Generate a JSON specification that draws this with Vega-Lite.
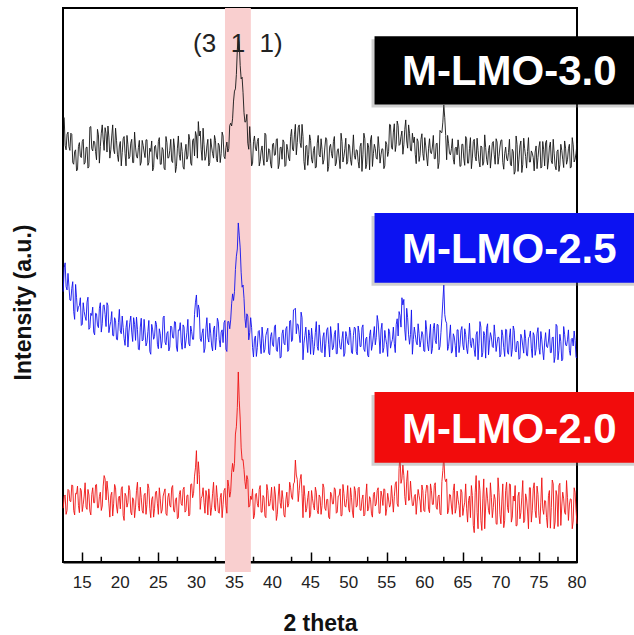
{
"$schema": "https://vega.github.io/schema/vega-lite/v6.json",
"width": 514, "height": 554,
"autosize": {"type": "none"},
"padding": {"left": 63, "top": 8, "right": 57, "bottom": 73},
"background": "white",
"config": {
"view": {"stroke": "#000", "strokeWidth": 2},
"font": "Liberation Sans",
"axisX": {"tickSize": -10, "tickColor": "#000", "tickWidth": 1.5, "domainColor": "#000", "domainWidth": 2,
"labelFontSize": 17, "labelColor": "white", "labelOpacity": 0, "labelPadding": 22, "labelFlush": false, "labelOverlap": false, "labelBound": false,
"titleFontSize": 23, "titleFontWeight": "bold", "titleColor": "#111", "titlePadding": 22, "grid": false},
"axisY": {"labels": false, "ticks": false, "domain": false, "grid": false,
"titleFontSize": 23, "titleFontWeight": "bold", "titleColor": "#111", "titlePadding": 28}
},
"datasets": {
"band": [{"lo": 33.75, "hi": 37.15}],
"minor": [{"m":12.5},{"m":17.5},{"m":22.5},{"m":27.5},{"m":32.5},{"m":37.5},{"m":42.5},{"m":47.5},{"m":52.5},{"m":57.5},{"m":62.5},{"m":67.5},{"m":72.5},{"m":77.5}],
"ticklab": [{"v":15},{"v":20},{"v":25},{"v":30},{"v":35},{"v":40},{"v":45},{"v":50},{"v":55},{"v":60},{"v":65},{"v":70},{"v":75},{"v":80}],
"hkl": [{"t": 35.45, "v": 93.5, "txt": "(3\u00a0\u00a01\u00a0\u00a01)"}],
"tags": [
{"name": "M-LMO-3.0", "x1": 53.4, "x2": 89, "y1": 94.9, "y2": 82.6, "tx": 71.1, "ty": 86.1},
{"name": "M-LMO-2.5", "x1": 53.4, "x2": 89, "y1": 63.0, "y2": 50.4, "tx": 71.1, "ty": 53.9},
{"name": "M-LMO-2.0", "x1": 53.4, "x2": 89, "y1": 30.7, "y2": 17.9, "tx": 71.1, "ty": 21.4}
],
"xrd": [
{"t":12.5,"k":80.1,"b":48.8,"r":9.7},{"t":12.75,"k":75.2,"b":54.0,"r":12.1},{"t":13,"k":77.2,"b":49.1,"r":9.3},{"t":13.25,"k":75.0,"b":49.8,"r":12.9},{"t":13.5,"k":77.4,"b":47.2,"r":10.9},{"t":13.75,"k":72.1,"b":50.6,"r":13.8},{"t":14,"k":74.1,"b":43.8,"r":8.5},{"t":14.25,"k":70.6,"b":47.7,"r":12.3},{"t":14.5,"k":75.0,"b":46.0,"r":10.2},{"t":14.75,"k":73.3,"b":47.7,"r":13.3},
{"t":15,"k":75.9,"b":42.9,"r":9.1},{"t":15.25,"k":71.8,"b":45.2,"r":11.9},{"t":15.5,"k":74.8,"b":43.6,"r":9.9},{"t":15.75,"k":71.1,"b":47.8,"r":13.1},{"t":16,"k":78.5,"b":42.3,"r":9.2},{"t":16.25,"k":74.6,"b":44.5,"r":12.2},{"t":16.5,"k":76.0,"b":41.5,"r":10.7},{"t":16.75,"k":74.1,"b":44.9,"r":13.9},{"t":17,"k":78.1,"b":42.8,"r":9.8},{"t":17.25,"k":72.0,"b":45.8,"r":11.8},
{"t":17.5,"k":77.4,"b":41.5,"r":9.3},{"t":17.75,"k":76.2,"b":46.3,"r":13.7},{"t":18,"k":78.4,"b":44.7,"r":15.0},{"t":18.25,"k":74.0,"b":46.8,"r":14.6},{"t":18.5,"k":76.7,"b":41.4,"r":10.5},{"t":18.75,"k":74.4,"b":43.4,"r":12.0},{"t":19,"k":78.9,"b":40.9,"r":8.3},{"t":19.25,"k":73.7,"b":44.1,"r":14.0},{"t":19.5,"k":76.1,"b":40.2,"r":10.1},{"t":19.75,"k":72.3,"b":43.2,"r":11.5},
{"t":20,"k":75.9,"b":41.7,"r":9.6},{"t":20.25,"k":73.9,"b":44.4,"r":13.6},{"t":20.5,"k":76.8,"b":40.3,"r":7.5},{"t":20.75,"k":71.5,"b":42.3,"r":11.9},{"t":21,"k":75.3,"b":38.8,"r":10.7},{"t":21.25,"k":73.2,"b":43.2,"r":12.9},{"t":21.5,"k":76.3,"b":41.5,"r":8.5},{"t":21.75,"k":72.1,"b":44.1,"r":11.2},{"t":22,"k":74.9,"b":40.0,"r":9.9},{"t":22.25,"k":72.9,"b":42.0,"r":14.4},
{"t":22.5,"k":76.1,"b":38.3,"r":9.2},{"t":22.75,"k":72.2,"b":44.0,"r":11.6},{"t":23,"k":75.2,"b":40.1,"r":8.8},{"t":23.25,"k":73.0,"b":41.5,"r":12.4},{"t":23.5,"k":76.2,"b":39.6,"r":10.4},{"t":23.75,"k":72.1,"b":43.6,"r":13.3},{"t":24,"k":74.1,"b":37.5,"r":8.0},{"t":24.25,"k":70.6,"b":41.9,"r":11.8},{"t":24.5,"k":75.0,"b":40.7,"r":9.7},{"t":24.75,"k":73.3,"b":42.9,"r":12.8},
{"t":25,"k":75.9,"b":38.5,"r":8.6},{"t":25.25,"k":71.8,"b":41.2,"r":11.4},{"t":25.5,"k":74.8,"b":39.9,"r":9.4},{"t":25.75,"k":71.1,"b":44.4,"r":12.6},{"t":26,"k":76.8,"b":39.2,"r":8.7},{"t":26.25,"k":72.9,"b":41.6,"r":11.7},{"t":26.5,"k":74.3,"b":38.8,"r":10.2},{"t":26.75,"k":72.4,"b":42.4,"r":13.4},{"t":27,"k":76.4,"b":40.4,"r":9.3},{"t":27.25,"k":70.3,"b":43.3,"r":11.3},
{"t":27.5,"k":74.7,"b":38.0,"r":7.8},{"t":27.75,"k":73.5,"b":41.8,"r":12.2},{"t":28,"k":75.7,"b":39.7,"r":10.5},{"t":28.25,"k":71.3,"b":42.8,"r":13.1},{"t":28.5,"k":74.0,"b":38.6,"r":9.0},{"t":28.75,"k":72.7,"b":41.4,"r":12.0},{"t":29,"k":77.2,"b":39.4,"r":8.3},{"t":29.25,"k":72.0,"b":42.6,"r":14.0},{"t":29.5,"k":76.1,"b":40.2,"r":11.6},{"t":29.75,"k":73.3,"b":44.7,"r":15.5},
{"t":30,"k":76.9,"b":48.2,"r":20.1},{"t":30.25,"k":79.5,"b":46.4,"r":18.1},{"t":30.5,"k":77.8,"b":40.3,"r":9.5},{"t":30.75,"k":72.5,"b":41.3,"r":11.9},{"t":31,"k":75.3,"b":37.8,"r":10.7},{"t":31.25,"k":73.2,"b":42.2,"r":12.9},{"t":31.5,"k":76.3,"b":40.5,"r":8.5},{"t":31.75,"k":72.1,"b":43.1,"r":11.2},{"t":32,"k":74.9,"b":39.0,"r":9.9},{"t":32.25,"k":72.9,"b":42.0,"r":14.4},
{"t":32.5,"k":76.1,"b":38.3,"r":9.2},{"t":32.75,"k":72.2,"b":44.0,"r":11.6},{"t":33,"k":75.2,"b":40.1,"r":8.8},{"t":33.25,"k":73.7,"b":41.5,"r":12.4},{"t":33.5,"k":76.9,"b":39.6,"r":10.4},{"t":33.75,"k":72.8,"b":43.6,"r":13.3},{"t":34,"k":75.8,"b":38.0,"r":8.8},{"t":34.25,"k":74.6,"b":43.4,"r":13.6},{"t":34.5,"k":79.2,"b":43.7,"r":12.7},{"t":34.75,"k":80.0,"b":48.4,"r":17.8},
{"t":35,"k":85.0,"b":48.8,"r":17.8},{"t":35.25,"k":88.0,"b":55.2,"r":24.4},{"t":35.5,"k":94.6,"b":61.2,"r":34.3},{"t":35.75,"k":89.6,"b":56.7,"r":25.8},{"t":36,"k":87.5,"b":49.6,"r":18.4},{"t":36.25,"k":81.1,"b":47.6,"r":16.7},{"t":36.5,"k":79.5,"b":42.3,"r":13.2},{"t":36.75,"k":75.6,"b":44.4,"r":14.9},{"t":37,"k":78.6,"b":41.4,"r":10.1},{"t":37.25,"k":71.5,"b":42.3,"r":11.3},
{"t":37.5,"k":75.9,"b":37.0,"r":7.8},{"t":37.75,"k":74.7,"b":40.8,"r":12.2},{"t":38,"k":75.9,"b":38.7,"r":10.5},{"t":38.25,"k":71.5,"b":41.8,"r":13.1},{"t":38.5,"k":74.2,"b":37.6,"r":9.0},{"t":38.75,"k":72.9,"b":40.4,"r":12.0},{"t":39,"k":77.4,"b":38.4,"r":8.3},{"t":39.25,"k":72.2,"b":41.6,"r":14.0},{"t":39.5,"k":74.6,"b":37.7,"r":10.1},{"t":39.75,"k":71.8,"b":40.7,"r":11.5},
{"t":40,"k":75.4,"b":39.2,"r":9.6},{"t":40.25,"k":73.4,"b":42.4,"r":13.6},{"t":40.5,"k":76.3,"b":38.3,"r":7.5},{"t":40.75,"k":71.0,"b":40.3,"r":11.9},{"t":41,"k":74.8,"b":36.8,"r":10.7},{"t":41.25,"k":72.7,"b":41.2,"r":12.9},{"t":41.5,"k":75.8,"b":39.5,"r":8.5},{"t":41.75,"k":71.6,"b":42.1,"r":11.2},{"t":42,"k":74.4,"b":38.0,"r":9.9},{"t":42.25,"k":72.4,"b":43.5,"r":14.4},
{"t":42.5,"k":78.1,"b":39.8,"r":11.7},{"t":42.75,"k":74.2,"b":45.5,"r":14.1},{"t":43,"k":79.0,"b":45.8,"r":18.4},{"t":43.25,"k":75.7,"b":43.0,"r":14.9},{"t":43.5,"k":78.9,"b":41.1,"r":12.9},{"t":43.75,"k":74.8,"b":45.1,"r":15.8},{"t":44,"k":76.8,"b":36.5,"r":8.0},{"t":44.25,"k":70.8,"b":40.9,"r":11.8},{"t":44.5,"k":75.2,"b":39.7,"r":9.7},{"t":44.75,"k":73.5,"b":41.9,"r":12.8},
{"t":45,"k":76.1,"b":37.5,"r":8.6},{"t":45.25,"k":72.0,"b":40.2,"r":11.4},{"t":45.5,"k":75.0,"b":38.9,"r":9.4},{"t":45.75,"k":71.3,"b":43.4,"r":12.6},{"t":46,"k":77.0,"b":38.2,"r":8.7},{"t":46.25,"k":73.1,"b":40.6,"r":11.7},{"t":46.5,"k":74.5,"b":37.8,"r":10.2},{"t":46.75,"k":72.6,"b":41.4,"r":13.4},{"t":47,"k":76.6,"b":39.4,"r":9.3},{"t":47.25,"k":70.5,"b":42.3,"r":11.3},
{"t":47.5,"k":74.9,"b":37.0,"r":7.8},{"t":47.75,"k":73.7,"b":40.8,"r":12.2},{"t":48,"k":75.9,"b":38.7,"r":10.5},{"t":48.25,"k":71.5,"b":41.8,"r":13.1},{"t":48.5,"k":74.2,"b":37.6,"r":9.0},{"t":48.75,"k":72.9,"b":40.4,"r":12.0},{"t":49,"k":77.4,"b":38.4,"r":8.3},{"t":49.25,"k":72.2,"b":41.6,"r":14.0},{"t":49.5,"k":74.6,"b":37.7,"r":10.1},{"t":49.75,"k":71.8,"b":40.7,"r":11.5},
{"t":50,"k":75.4,"b":39.2,"r":9.6},{"t":50.25,"k":72.6,"b":41.4,"r":13.4},{"t":50.5,"k":74.2,"b":37.6,"r":9.0},{"t":50.75,"k":73.4,"b":42.4,"r":13.6},{"t":51,"k":74.4,"b":38.0,"r":9.9},{"t":51.25,"k":72.3,"b":42.6,"r":13.3},{"t":51.5,"k":75.0,"b":38.9,"r":9.4},{"t":51.75,"k":70.5,"b":42.3,"r":11.3},{"t":52,"k":77.4,"b":38.4,"r":8.3},{"t":52.25,"k":71.0,"b":40.3,"r":11.9},
{"t":52.5,"k":75.6,"b":37.3,"r":9.2},{"t":52.75,"k":70.8,"b":40.9,"r":11.8},{"t":53,"k":77.0,"b":38.2,"r":8.7},{"t":53.25,"k":73.7,"b":40.8,"r":12.2},{"t":53.5,"k":74.6,"b":39.2,"r":10.1},{"t":53.75,"k":72.7,"b":44.5,"r":12.9},{"t":54,"k":74.7,"b":40.6,"r":8.8},{"t":54.25,"k":73.5,"b":41.9,"r":12.8},{"t":54.5,"k":74.5,"b":37.8,"r":10.2},{"t":54.75,"k":71.5,"b":41.8,"r":13.1},
{"t":55,"k":75.4,"b":39.2,"r":9.6},{"t":55.25,"k":74.1,"b":42.1,"r":11.2},{"t":55.5,"k":78.9,"b":38.6,"r":10.4},{"t":55.75,"k":74.5,"b":40.2,"r":11.4},{"t":56,"k":79.1,"b":39.4,"r":11.8},{"t":56.25,"k":75.4,"b":42.9,"r":14.5},{"t":56.5,"k":78.8,"b":40.8,"r":10.0},{"t":56.75,"k":75.4,"b":44.5,"r":19.3},{"t":57,"k":77.8,"b":47.7,"r":15.0},{"t":57.25,"k":75.3,"b":47.4,"r":15.6},
{"t":57.5,"k":79.8,"b":40.0,"r":10.3},{"t":57.75,"k":74.7,"b":44.1,"r":16.5},{"t":58,"k":77.3,"b":39.3,"r":11.2},{"t":58.25,"k":74.2,"b":45.5,"r":12.1},{"t":58.5,"k":75.7,"b":40.2,"r":10.2},{"t":58.75,"k":73.6,"b":41.1,"r":12.2},{"t":59,"k":76.4,"b":39.2,"r":11.0},{"t":59.25,"k":72.3,"b":41.2,"r":12.0},{"t":59.5,"k":76.3,"b":40.0,"r":9.0},{"t":59.75,"k":73.7,"b":41.0,"r":12.9},
{"t":60,"k":76.6,"b":38.0,"r":9.1},{"t":60.25,"k":73.1,"b":41.9,"r":13.9},{"t":60.5,"k":74.7,"b":38.1,"r":9.5},{"t":60.75,"k":73.9,"b":42.9,"r":14.1},{"t":61,"k":74.9,"b":38.5,"r":10.4},{"t":61.25,"k":72.8,"b":43.1,"r":13.8},{"t":61.5,"k":75.5,"b":39.4,"r":9.9},{"t":61.75,"k":71.0,"b":42.8,"r":11.8},{"t":62,"k":77.9,"b":38.9,"r":8.8},{"t":62.25,"k":77.5,"b":44.0,"r":14.5},
{"t":62.5,"k":82.5,"b":50.0,"r":19.3},{"t":62.75,"k":77.0,"b":43.5,"r":14.5},{"t":63,"k":77.0,"b":38.2,"r":8.7},{"t":63.25,"k":73.7,"b":40.8,"r":12.2},{"t":63.5,"k":74.6,"b":37.7,"r":10.1},{"t":63.75,"k":72.7,"b":41.2,"r":12.9},{"t":64,"k":74.7,"b":39.1,"r":8.8},{"t":64.25,"k":73.5,"b":41.9,"r":12.8},{"t":64.5,"k":74.5,"b":37.8,"r":10.2},{"t":64.75,"k":71.5,"b":41.8,"r":13.1},
{"t":65,"k":75.4,"b":39.2,"r":8.4},{"t":65.25,"k":71.6,"b":42.1,"r":10.8},{"t":65.5,"k":76.4,"b":38.6,"r":9.6},{"t":65.75,"k":72.0,"b":40.2,"r":11.1},{"t":66,"k":76.6,"b":39.4,"r":8.0},{"t":66.25,"k":72.9,"b":40.4,"r":12.0},{"t":66.5,"k":76.3,"b":38.3,"r":5.3},{"t":66.75,"k":72.4,"b":41.0,"r":15.6},{"t":67,"k":74.3,"b":36.5,"r":6.0},{"t":67.25,"k":71.3,"b":43.4,"r":12.9},
{"t":67.5,"k":74.9,"b":37.0,"r":5.7},{"t":67.75,"k":72.2,"b":41.6,"r":15.0},{"t":68,"k":74.8,"b":36.8,"r":10.1},{"t":68.25,"k":71.7,"b":43.0,"r":11.4},{"t":68.5,"k":75.2,"b":39.7,"r":8.6},{"t":68.75,"k":73.1,"b":40.6,"r":11.6},{"t":69,"k":75.9,"b":38.7,"r":9.8},{"t":69.25,"k":71.8,"b":40.7,"r":11.3},{"t":69.5,"k":75.8,"b":39.5,"r":6.8},{"t":69.75,"k":73.2,"b":40.5,"r":12.6},
{"t":70,"k":76.1,"b":37.5,"r":6.9},{"t":70.25,"k":72.1,"b":40.9,"r":14.1},{"t":70.5,"k":73.7,"b":37.1,"r":7.5},{"t":70.75,"k":72.9,"b":41.9,"r":14.4},{"t":71,"k":73.9,"b":37.5,"r":8.9},{"t":71.25,"k":71.8,"b":42.1,"r":14.0},{"t":71.5,"k":74.5,"b":38.4,"r":8.1},{"t":71.75,"k":70.0,"b":41.8,"r":11.0},{"t":72,"k":76.9,"b":37.9,"r":6.5},{"t":72.25,"k":70.5,"b":39.8,"r":11.9},
{"t":72.5,"k":75.1,"b":36.8,"r":7.8},{"t":72.75,"k":70.3,"b":40.4,"r":11.7},{"t":73,"k":76.5,"b":37.7,"r":7.1},{"t":73.25,"k":73.2,"b":40.3,"r":12.3},{"t":73.5,"k":74.1,"b":37.2,"r":9.2},{"t":73.75,"k":72.2,"b":40.7,"r":13.4},{"t":74,"k":74.2,"b":38.6,"r":7.2},{"t":74.25,"k":73.0,"b":41.4,"r":13.2},{"t":74.5,"k":74.0,"b":37.3,"r":9.3},{"t":74.75,"k":71.0,"b":41.3,"r":13.7},
{"t":75,"k":74.9,"b":38.7,"r":8.4},{"t":75.25,"k":71.1,"b":41.6,"r":10.8},{"t":75.5,"k":75.9,"b":38.1,"r":9.6},{"t":75.75,"k":71.5,"b":39.7,"r":11.1},{"t":76,"k":76.1,"b":38.9,"r":8.0},{"t":76.25,"k":72.4,"b":39.9,"r":12.0},{"t":76.5,"k":75.8,"b":37.8,"r":6.1},{"t":76.75,"k":71.9,"b":40.5,"r":14.8},{"t":77,"k":73.8,"b":36.0,"r":6.0},{"t":77.25,"k":70.8,"b":42.9,"r":12.9},
{"t":77.5,"k":74.4,"b":36.5,"r":6.4},{"t":77.75,"k":71.7,"b":41.1,"r":14.2},{"t":78,"k":74.3,"b":36.3,"r":10.1},{"t":78.25,"k":71.2,"b":42.5,"r":11.4},{"t":78.5,"k":74.7,"b":39.2,"r":8.6},{"t":78.75,"k":72.6,"b":40.1,"r":11.6},{"t":79,"k":75.4,"b":38.2,"r":10.3},{"t":79.25,"k":71.3,"b":40.2,"r":11.3},{"t":79.5,"k":75.3,"b":39.0,"r":7.4},{"t":79.75,"k":72.7,"b":40.0,"r":12.6},
{"t":80,"k":75.6,"b":37.0,"r":6.9},
{"t":12.625,"k":80.2,"b":53.1,"r":11.8},{"t":12.875,"k":74.4,"b":49.7,"r":8.6},{"t":13.125,"k":77.6,"b":52.1,"r":13.1},{"t":13.375,"k":74.3,"b":47.3,"r":11.0},{"t":13.625,"k":77.2,"b":49.4,"r":13.9},{"t":13.875,"k":71.8,"b":45.2,"r":9.3},{"t":14.125,"k":74.4,"b":50.1,"r":12.4},{"t":14.375,"k":70.8,"b":45.2,"r":13.7},{"t":14.625,"k":75.7,"b":46.3,"r":8.9},{"t":14.875,"k":73.0,"b":42.7,"r":12.9},
{"t":15.125,"k":76.3,"b":46.8,"r":10.4},{"t":15.375,"k":72.1,"b":44.3,"r":14.3},{"t":15.625,"k":74.9,"b":46.9,"r":9.5},{"t":15.875,"k":71.4,"b":42.0,"r":12.1},{"t":16.125,"k":78.6,"b":44.9,"r":8.5},{"t":16.375,"k":74.2,"b":46.0,"r":13.4},{"t":16.625,"k":75.8,"b":41.0,"r":10.7},{"t":16.875,"k":72.6,"b":44.8,"r":14.0},{"t":17.125,"k":77.1,"b":42.3,"r":9.8},{"t":17.375,"k":75.0,"b":46.8,"r":12.6},
{"t":17.625,"k":78.9,"b":43.0,"r":10.1},{"t":17.875,"k":74.3,"b":46.4,"r":15.6},{"t":18.125,"k":77.4,"b":42.5,"r":11.2},{"t":18.375,"k":78.7,"b":46.3,"r":12.8},{"t":18.625,"k":72.9,"b":42.6,"r":8.1},{"t":18.875,"k":76.9,"b":45.2,"r":12.6},{"t":19.125,"k":74.4,"b":40.8,"r":10.5},{"t":19.375,"k":78.3,"b":43.6,"r":13.4},{"t":19.625,"k":73.5,"b":40.1,"r":8.8},{"t":19.875,"k":75.1,"b":45.6,"r":11.9},
{"t":20.125,"k":71.5,"b":41.2,"r":13.2},{"t":20.375,"k":76.4,"b":42.3,"r":8.4},{"t":20.625,"k":73.7,"b":39.1,"r":12.4},{"t":20.875,"k":77.0,"b":43.6,"r":9.9},{"t":21.125,"k":72.8,"b":41.5,"r":13.8},{"t":21.375,"k":75.6,"b":44.4,"r":9.0},{"t":21.625,"k":72.1,"b":39.8,"r":11.6},{"t":21.875,"k":77.6,"b":42.9,"r":8.0},{"t":22.125,"k":73.2,"b":44.2,"r":12.9},{"t":22.375,"k":74.8,"b":38.4,"r":10.2},
{"t":22.625,"k":71.6,"b":42.4,"r":13.5},{"t":22.875,"k":76.1,"b":39.9,"r":9.3},{"t":23.125,"k":74.0,"b":43.8,"r":12.1},{"t":23.375,"k":76.2,"b":39.0,"r":8.6},{"t":23.625,"k":71.6,"b":41.6,"r":14.1},{"t":23.875,"k":74.7,"b":38.0,"r":9.7},{"t":24.125,"k":76.0,"b":42.9,"r":11.3},{"t":24.375,"k":71.2,"b":40.2,"r":8.1},{"t":24.625,"k":75.2,"b":43.5,"r":12.6},{"t":24.875,"k":72.7,"b":39.3,"r":10.5},
{"t":25.125,"k":76.6,"b":42.1,"r":13.4},{"t":25.375,"k":71.8,"b":38.6,"r":8.8},{"t":25.625,"k":74.4,"b":44.1,"r":11.9},{"t":25.875,"k":70.8,"b":39.7,"r":13.2},{"t":26.125,"k":75.7,"b":41.3,"r":8.4},{"t":26.375,"k":73.0,"b":38.1,"r":12.4},{"t":26.625,"k":76.3,"b":42.6,"r":9.9},{"t":26.875,"k":72.1,"b":40.5,"r":13.8},{"t":27.125,"k":74.9,"b":43.4,"r":9.0},{"t":27.375,"k":71.4,"b":38.8,"r":11.6},
{"t":27.625,"k":76.9,"b":41.9,"r":8.0},{"t":27.875,"k":72.5,"b":43.2,"r":12.9},{"t":28.125,"k":74.1,"b":38.4,"r":10.2},{"t":28.375,"k":70.9,"b":42.4,"r":13.5},{"t":28.625,"k":75.4,"b":39.9,"r":9.3},{"t":28.875,"k":73.3,"b":43.8,"r":12.1},{"t":29.125,"k":76.2,"b":39.0,"r":8.6},{"t":29.375,"k":71.6,"b":41.6,"r":14.1},{"t":29.625,"k":76.4,"b":40.2,"r":12.4},{"t":29.875,"k":77.7,"b":46.9,"r":17.0},
{"t":30.125,"k":72.9,"b":44.2,"r":14.1},{"t":30.375,"k":76.9,"b":45.5,"r":15.8},{"t":30.625,"k":74.4,"b":39.8,"r":11.5},{"t":30.875,"k":78.3,"b":42.1,"r":13.4},{"t":31.125,"k":72.5,"b":38.6,"r":8.8},{"t":31.375,"k":75.1,"b":44.1,"r":11.9},{"t":31.625,"k":71.5,"b":39.7,"r":13.2},{"t":31.875,"k":76.4,"b":41.3,"r":8.4},{"t":32.125,"k":73.7,"b":38.1,"r":12.4},{"t":32.375,"k":77.0,"b":42.6,"r":9.9},
{"t":32.625,"k":72.8,"b":40.5,"r":13.8},{"t":32.875,"k":75.6,"b":43.4,"r":9.0},{"t":33.125,"k":72.1,"b":38.8,"r":11.6},{"t":33.375,"k":77.6,"b":41.9,"r":8.0},{"t":33.625,"k":73.2,"b":43.2,"r":12.9},{"t":33.875,"k":74.8,"b":38.4,"r":10.2},{"t":34.125,"k":74.0,"b":43.4,"r":14.8},{"t":34.375,"k":78.8,"b":42.1,"r":11.7},{"t":34.625,"k":78.7,"b":46.6,"r":16.1},{"t":34.875,"k":83.2,"b":47.2,"r":16.3},
{"t":35.125,"k":85.4,"b":52.8,"r":23.1},{"t":35.375,"k":92.5,"b":56.5,"r":27.9},{"t":35.625,"k":93.6,"b":59.0,"r":29.2},{"t":35.875,"k":87.2,"b":52.3,"r":20.6},{"t":36.125,"k":84.7,"b":50.0,"r":18.5},{"t":36.375,"k":79.4,"b":44.0,"r":14.5},{"t":36.625,"k":80.8,"b":44.8,"r":15.6},{"t":36.875,"k":74.5,"b":40.1,"r":9.9},{"t":37.125,"k":75.6,"b":44.1,"r":11.9},{"t":37.375,"k":72.0,"b":38.7,"r":13.2},
{"t":37.625,"k":76.9,"b":40.3,"r":8.4},{"t":37.875,"k":74.2,"b":37.1,"r":12.4},{"t":38.125,"k":76.5,"b":41.6,"r":9.9},{"t":38.375,"k":72.3,"b":39.5,"r":13.8},{"t":38.625,"k":75.1,"b":42.4,"r":9.0},{"t":38.875,"k":71.6,"b":37.8,"r":11.6},{"t":39.125,"k":77.1,"b":40.9,"r":8.0},{"t":39.375,"k":72.7,"b":42.2,"r":12.9},{"t":39.625,"k":74.3,"b":37.4,"r":10.2},{"t":39.875,"k":71.1,"b":41.4,"r":13.5},
{"t":40.125,"k":75.6,"b":38.9,"r":9.3},{"t":40.375,"k":73.5,"b":42.8,"r":12.1},{"t":40.625,"k":76.4,"b":38.0,"r":8.6},{"t":40.875,"k":71.8,"b":40.6,"r":14.1},{"t":41.125,"k":74.9,"b":37.0,"r":9.7},{"t":41.375,"k":76.2,"b":41.9,"r":11.3},{"t":41.625,"k":71.4,"b":39.2,"r":8.1},{"t":41.875,"k":75.4,"b":42.5,"r":12.6},{"t":42.125,"k":72.9,"b":38.3,"r":10.5},{"t":42.375,"k":76.8,"b":43.6,"r":13.4},
{"t":42.625,"k":74.5,"b":40.1,"r":11.3},{"t":42.875,"k":77.1,"b":45.6,"r":14.4},{"t":43.125,"k":73.5,"b":41.2,"r":15.7},{"t":43.375,"k":78.4,"b":42.8,"r":10.9},{"t":43.625,"k":75.7,"b":39.6,"r":14.9},{"t":43.875,"k":79.0,"b":44.1,"r":12.4},{"t":44.125,"k":72.3,"b":39.5,"r":13.8},{"t":44.375,"k":75.1,"b":42.4,"r":9.0},{"t":44.625,"k":71.6,"b":37.8,"r":11.6},{"t":44.875,"k":77.1,"b":40.9,"r":8.0},
{"t":45.125,"k":72.7,"b":42.2,"r":12.9},{"t":45.375,"k":74.3,"b":37.4,"r":10.2},{"t":45.625,"k":71.1,"b":41.4,"r":13.5},{"t":45.875,"k":75.6,"b":38.9,"r":9.3},{"t":46.125,"k":73.5,"b":42.8,"r":12.1},{"t":46.375,"k":76.4,"b":38.0,"r":8.6},{"t":46.625,"k":71.8,"b":40.6,"r":14.1},{"t":46.875,"k":74.9,"b":37.0,"r":9.7},{"t":47.125,"k":76.2,"b":41.9,"r":11.3},{"t":47.375,"k":71.4,"b":39.2,"r":8.1},
{"t":47.625,"k":75.4,"b":42.5,"r":12.6},{"t":47.875,"k":72.9,"b":38.3,"r":10.5},{"t":48.125,"k":76.8,"b":41.1,"r":13.4},{"t":48.375,"k":72.0,"b":37.6,"r":8.8},{"t":48.625,"k":74.6,"b":43.1,"r":11.9},{"t":48.875,"k":71.0,"b":38.7,"r":13.2},{"t":49.125,"k":75.9,"b":40.3,"r":8.4},{"t":49.375,"k":73.2,"b":37.1,"r":12.4},{"t":49.625,"k":76.5,"b":41.6,"r":9.9},{"t":49.875,"k":72.3,"b":39.5,"r":13.8},
{"t":50.125,"k":75.1,"b":42.4,"r":9.0},{"t":50.375,"k":71.6,"b":37.8,"r":11.6},{"t":50.625,"k":77.1,"b":40.9,"r":8.0},{"t":50.875,"k":72.7,"b":42.2,"r":12.9},{"t":51.125,"k":74.3,"b":37.4,"r":10.2},{"t":51.375,"k":71.1,"b":41.4,"r":13.5},{"t":51.625,"k":75.6,"b":38.9,"r":9.3},{"t":51.875,"k":73.5,"b":42.8,"r":12.1},{"t":52.125,"k":76.4,"b":38.0,"r":8.6},{"t":52.375,"k":71.8,"b":40.6,"r":14.1},
{"t":52.625,"k":74.9,"b":37.0,"r":9.7},{"t":52.875,"k":76.2,"b":41.9,"r":11.3},{"t":53.125,"k":71.4,"b":39.2,"r":8.1},{"t":53.375,"k":75.4,"b":42.5,"r":12.6},{"t":53.625,"k":72.9,"b":40.5,"r":10.5},{"t":53.875,"k":76.8,"b":43.3,"r":13.4},{"t":54.125,"k":72.0,"b":37.6,"r":8.8},{"t":54.375,"k":74.6,"b":43.1,"r":11.9},{"t":54.625,"k":71.0,"b":38.7,"r":13.2},{"t":54.875,"k":75.9,"b":40.3,"r":8.4},
{"t":55.125,"k":73.2,"b":37.1,"r":12.4},{"t":55.375,"k":79.0,"b":41.6,"r":9.9},{"t":55.625,"k":74.8,"b":39.5,"r":13.8},{"t":55.875,"k":77.6,"b":42.4,"r":9.0},{"t":56.125,"k":74.1,"b":37.8,"r":14.1},{"t":56.375,"k":79.6,"b":43.9,"r":10.5},{"t":56.625,"k":75.2,"b":45.2,"r":16.9},{"t":56.875,"k":76.8,"b":42.4,"r":14.2},{"t":57.125,"k":73.6,"b":46.4,"r":17.5},{"t":57.375,"k":78.1,"b":41.9,"r":11.8},
{"t":57.625,"k":76.0,"b":45.8,"r":14.6},{"t":57.875,"k":78.9,"b":41.0,"r":11.1},{"t":58.125,"k":74.3,"b":41.1,"r":14.6},{"t":58.375,"k":77.4,"b":37.5,"r":10.2},{"t":58.625,"k":76.7,"b":42.4,"r":11.8},{"t":58.875,"k":71.9,"b":39.7,"r":8.6},{"t":59.125,"k":75.9,"b":43.0,"r":13.1},{"t":59.375,"k":73.4,"b":38.8,"r":11.0},{"t":59.625,"k":77.3,"b":41.6,"r":13.9},{"t":59.875,"k":72.5,"b":38.1,"r":9.3},
{"t":60.125,"k":75.1,"b":43.6,"r":12.4},{"t":60.375,"k":71.5,"b":39.2,"r":13.7},{"t":60.625,"k":76.4,"b":40.8,"r":8.9},{"t":60.875,"k":73.7,"b":37.6,"r":12.9},{"t":61.125,"k":77.0,"b":42.1,"r":10.4},{"t":61.375,"k":72.8,"b":40.0,"r":14.3},{"t":61.625,"k":75.6,"b":42.9,"r":9.5},{"t":61.875,"k":72.1,"b":38.3,"r":12.1},{"t":62.125,"k":77.6,"b":41.4,"r":8.5},{"t":62.375,"k":79.4,"b":47.1,"r":16.5},
{"t":62.625,"k":80.2,"b":44.7,"r":15.1},{"t":62.875,"k":72.6,"b":43.1,"r":15.0},{"t":63.125,"k":75.6,"b":38.9,"r":9.3},{"t":63.375,"k":73.5,"b":42.8,"r":12.1},{"t":63.625,"k":76.4,"b":38.0,"r":8.6},{"t":63.875,"k":71.8,"b":40.6,"r":14.1},{"t":64.125,"k":74.9,"b":37.0,"r":9.7},{"t":64.375,"k":76.2,"b":41.9,"r":11.3},{"t":64.625,"k":71.4,"b":39.2,"r":8.1},{"t":64.875,"k":75.4,"b":42.5,"r":12.6},
{"t":65.125,"k":72.9,"b":38.3,"r":9.8},{"t":65.375,"k":76.8,"b":41.1,"r":14.1},{"t":65.625,"k":72.0,"b":37.6,"r":7.2},{"t":65.875,"k":74.6,"b":43.1,"r":11.9},{"t":66.125,"k":71.0,"b":38.7,"r":13.8},{"t":66.375,"k":75.9,"b":40.3,"r":6.6},{"t":66.625,"k":73.2,"b":37.1,"r":12.6},{"t":66.875,"k":76.5,"b":41.6,"r":8.9},{"t":67.125,"k":72.3,"b":39.5,"r":14.7},{"t":67.375,"k":75.1,"b":42.4,"r":7.5},
{"t":67.625,"k":71.6,"b":37.8,"r":11.4},{"t":67.875,"k":77.1,"b":40.9,"r":6.0},{"t":68.125,"k":72.7,"b":42.2,"r":13.4},{"t":68.375,"k":74.3,"b":37.4,"r":9.3},{"t":68.625,"k":71.1,"b":41.4,"r":14.3},{"t":68.875,"k":75.6,"b":38.9,"r":8.0},{"t":69.125,"k":73.5,"b":42.8,"r":12.2},{"t":69.375,"k":76.4,"b":38.0,"r":6.9},{"t":69.625,"k":71.8,"b":40.6,"r":15.2},{"t":69.875,"k":74.9,"b":37.0,"r":8.6},
{"t":70.125,"k":76.2,"b":41.9,"r":11.0},{"t":70.375,"k":70.9,"b":38.7,"r":6.2},{"t":70.625,"k":74.9,"b":42.0,"r":12.9},{"t":70.875,"k":72.4,"b":37.8,"r":9.8},{"t":71.125,"k":76.3,"b":40.6,"r":14.1},{"t":71.375,"k":71.5,"b":37.1,"r":7.2},{"t":71.625,"k":74.1,"b":42.6,"r":11.9},{"t":71.875,"k":70.5,"b":38.2,"r":13.8},{"t":72.125,"k":75.4,"b":39.8,"r":6.6},{"t":72.375,"k":72.7,"b":36.6,"r":12.6},
{"t":72.625,"k":76.0,"b":41.1,"r":8.9},{"t":72.875,"k":71.8,"b":39.0,"r":14.7},{"t":73.125,"k":74.6,"b":41.9,"r":7.5},{"t":73.375,"k":71.1,"b":37.3,"r":11.4},{"t":73.625,"k":76.6,"b":40.4,"r":6.0},{"t":73.875,"k":72.2,"b":41.7,"r":13.4},{"t":74.125,"k":73.8,"b":36.9,"r":9.3},{"t":74.375,"k":70.6,"b":40.9,"r":14.3},{"t":74.625,"k":75.1,"b":38.4,"r":8.0},{"t":74.875,"k":73.0,"b":42.3,"r":12.2},
{"t":75.125,"k":75.9,"b":37.5,"r":6.9},{"t":75.375,"k":71.3,"b":40.1,"r":15.2},{"t":75.625,"k":74.4,"b":36.5,"r":8.6},{"t":75.875,"k":75.7,"b":41.4,"r":11.0},{"t":76.125,"k":70.9,"b":38.7,"r":6.2},{"t":76.375,"k":74.9,"b":42.0,"r":12.9},{"t":76.625,"k":72.4,"b":37.8,"r":9.8},{"t":76.875,"k":76.3,"b":40.6,"r":14.1},{"t":77.125,"k":71.5,"b":37.1,"r":7.2},{"t":77.375,"k":74.1,"b":42.6,"r":11.9},
{"t":77.625,"k":70.5,"b":38.2,"r":13.8},{"t":77.875,"k":75.4,"b":39.8,"r":6.6},{"t":78.125,"k":72.7,"b":36.6,"r":12.6},{"t":78.375,"k":76.0,"b":41.1,"r":8.9},{"t":78.625,"k":71.8,"b":39.0,"r":14.7},{"t":78.875,"k":74.6,"b":41.9,"r":7.5},{"t":79.125,"k":71.1,"b":37.3,"r":11.4},{"t":79.375,"k":76.6,"b":40.4,"r":6.0},{"t":79.625,"k":72.2,"b":41.7,"r":13.4},{"t":79.875,"k":73.8,"b":36.9,"r":9.3}
]
},
"layer": [
{
"data": {"name": "band"},
"mark": {"type": "rect", "color": "#f9cfcf"},
"encoding": {
"x": {"field": "lo", "type": "quantitative", "title": "2 theta", "scale": {"domain": [12.47, 80], "nice": false, "zero": false},
"axis": {"values": [15,20,25,30,35,40,45,50,55,60,65,70,75,80], "labelOverlap": false, "labelFontSize": 17}},
"x2": {"field": "hi"},
"y": {"datum": 100, "type": "quantitative", "title": "Intensity (a.u.)", "scale": {"domain": [0, 100], "nice": false, "zero": false},
"axis": {"titleY": 294}},
"y2": {"datum": -1.8}
}
},
{
"data": {"name": "minor"},
"mark": {"type": "rule", "color": "#000", "strokeWidth": 1.5},
"encoding": {
"x": {"field": "m", "type": "quantitative", "title": "2 theta", "scale": {"domain": [12.47, 80], "nice": false, "zero": false}},
"y": {"datum": 0, "type": "quantitative", "title": "Intensity (a.u.)", "scale": {"domain": [0, 100], "nice": false, "zero": false}},
"y2": {"datum": 0.95}
}
},
{
"data": {"name": "ticklab"},
"mark": {"type": "text", "color": "#222", "fontSize": 17, "align": "center", "baseline": "middle", "dy": 21},
"encoding": {
"x": {"field": "v", "type": "quantitative", "title": "2 theta", "scale": {"domain": [12.47, 80], "nice": false, "zero": false}},
"y": {"datum": 0, "type": "quantitative", "title": "Intensity (a.u.)", "scale": {"domain": [0, 100], "nice": false, "zero": false}},
"text": {"field": "v", "type": "quantitative"}
}
},
{
"data": {"name": "xrd"},
"transform": [{"fold": ["k", "b", "r"], "as": ["s", "v"]}],
"mark": {"type": "line", "strokeWidth": 0.9},
"encoding": {
"x": {"field": "t", "type": "quantitative", "title": "2 theta", "scale": {"domain": [12.47, 80], "nice": false, "zero": false}},
"y": {"field": "v", "type": "quantitative", "title": "Intensity (a.u.)", "scale": {"domain": [0, 100], "nice": false, "zero": false}},
"color": {"field": "s", "type": "nominal", "scale": {"domain": ["k", "b", "r"], "range": ["#151515", "#1212ee", "#ee1212"]}, "legend": null}
}
},
{
"data": {"name": "tags"},
"mark": {"type": "rect", "color": "#777", "opacity": 0.35, "xOffset": -3, "x2Offset": -3, "yOffset": 3, "y2Offset": 3},
"encoding": {
"x": {"field": "x1", "type": "quantitative", "title": "2 theta", "scale": {"domain": [12.47, 80], "nice": false, "zero": false}},
"x2": {"field": "x2"},
"y": {"field": "y1", "type": "quantitative", "title": "Intensity (a.u.)", "scale": {"domain": [0, 100], "nice": false, "zero": false}},
"y2": {"field": "y2"}
}
},
{
"data": {"name": "tags"},
"mark": {"type": "rect"},
"encoding": {
"x": {"field": "x1", "type": "quantitative", "title": "2 theta", "scale": {"domain": [12.47, 80], "nice": false, "zero": false}},
"x2": {"field": "x2"},
"y": {"field": "y1", "type": "quantitative", "title": "Intensity (a.u.)", "scale": {"domain": [0, 100], "nice": false, "zero": false}},
"y2": {"field": "y2"},
"fill": {"field": "name", "type": "nominal", "scale": {"domain": ["M-LMO-3.0", "M-LMO-2.5", "M-LMO-2.0"], "range": ["#000000", "#0c12f2", "#f20c0c"]}, "legend": null}
}
},
{
"data": {"name": "tags"},
"mark": {"type": "text", "color": "white", "fontSize": 42, "fontWeight": "bold", "align": "center", "baseline": "alphabetic"},
"encoding": {
"x": {"field": "tx", "type": "quantitative", "title": "2 theta", "scale": {"domain": [12.47, 80], "nice": false, "zero": false}},
"y": {"field": "ty", "type": "quantitative", "title": "Intensity (a.u.)", "scale": {"domain": [0, 100], "nice": false, "zero": false}},
"text": {"field": "name"}
}
},
{
"data": {"name": "hkl"},
"mark": {"type": "text", "color": "#222", "fontSize": 26, "align": "center", "baseline": "middle"},
"encoding": {
"x": {"field": "t", "type": "quantitative", "title": "2 theta", "scale": {"domain": [12.47, 80], "nice": false, "zero": false}},
"y": {"field": "v", "type": "quantitative", "title": "Intensity (a.u.)", "scale": {"domain": [0, 100], "nice": false, "zero": false}},
"text": {"field": "txt"}
}
}
]
}
